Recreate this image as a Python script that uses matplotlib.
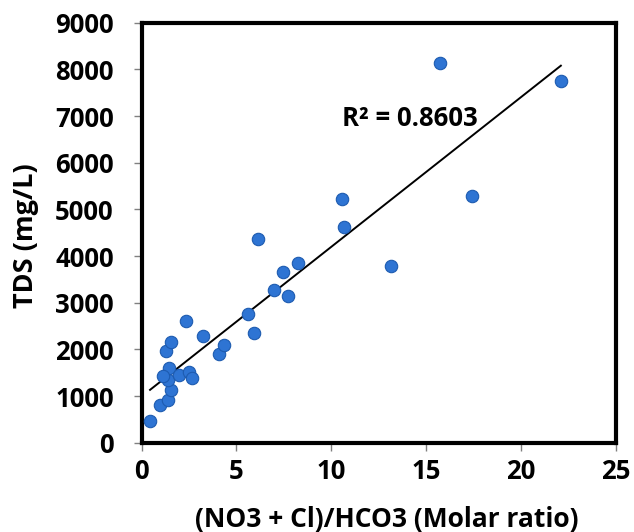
import numpy as np
import matplotlib
matplotlib.use("Agg")
import matplotlib.pyplot as plt

# Data
ratio = [0.45, 0.97, 1.38, 1.56, 1.38, 1.47, 1.29, 1.57, 1.99, 2.52, 2.66,
         1.15, 2.35, 3.22, 4.10, 4.33, 5.61, 5.91, 6.97, 7.46, 7.72, 8.25,
         6.14, 10.57, 10.69, 13.15, 15.73, 17.42, 22.11]
tds = [471, 808, 915, 1130, 1343, 1594, 1965, 2164, 1450, 1508, 1380,
       1420, 2614, 2293, 1900, 2093, 2751, 2357, 3265, 3651, 3137, 3850,
       4371, 5215, 4628, 3786, 8129, 5280, 7744]
xticks = [0, 5, 10, 15, 20, 25]
yticks = [0, 1000, 2000, 3000, 4000, 5000, 6000, 7000, 8000, 9000]
r2_label = "R² = 0.8603"
xlabel = "(NO3 + Cl)/HCO3 (Molar ratio)"
ylabel = "TDS (mg/L)"

plt.rcParams['font.family'] = ['Open Sans', 'DejaVu Sans']
fig = plt.figure(figsize=(6.34, 5.32), dpi=100)
ax = fig.add_axes([0.2232, 0.1679, 0.9711 - 0.2232, 0.9573 - 0.1679])

ax.scatter(ratio, tds, s=80, color='#2E74D3', edgecolor='#1D5BB0', linewidth=0.8, zorder=3)

# linear trendline
x = np.array(ratio)
y = np.array(tds)
m, b = np.polyfit(x, y, 1)
xl = np.array([x.min(), x.max()])
ax.plot(xl, m * xl + b, color='black', linewidth=1.4, zorder=2)

ax.text(10.55, 6780, r2_label, fontsize=18.5, fontweight='bold', ha='left', va='baseline')

ax.set_xlim(0, 25)
ax.set_ylim(0, 9000)
ax.set_xticks(xticks)
ax.set_yticks(yticks)
ax.set_xticklabels([str(v) for v in xticks], fontsize=18.5, fontweight='bold')
ax.set_yticklabels([str(v) for v in yticks], fontsize=18.5, fontweight='bold')
ax.tick_params(axis='both', direction='out', length=6, width=1, color='#808080')
ax.tick_params(axis='y', pad=14)
ax.tick_params(axis='x', pad=5)

for sp in ax.spines.values():
    sp.set_linewidth(3)
    sp.set_color('black')

ax.set_xlabel(xlabel, fontsize=19, fontweight='bold', va='center')
ax.set_ylabel(ylabel, fontsize=19.5, fontweight='bold', va='center')
ax.xaxis.set_label_coords(0.5167, -0.184)
ax.yaxis.set_label_coords(-0.2436, 0.492)

fig.savefig("out.png", dpi=100)
